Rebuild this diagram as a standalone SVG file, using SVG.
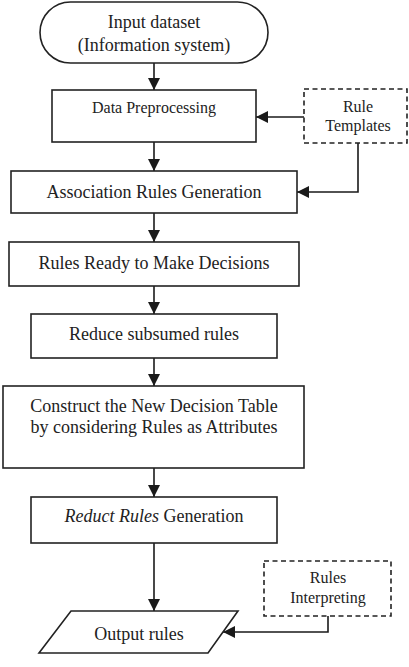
<svg xmlns="http://www.w3.org/2000/svg" width="409" height="667" viewBox="0 0 409 667">
<defs>
<marker id="ah" markerUnits="userSpaceOnUse" markerWidth="12" markerHeight="12" viewBox="0 0 12 12" refX="12" refY="6" orient="auto">
<path d="M0,0 L12,6 L0,12 Z" fill="#1a1a1a"/>
</marker>
</defs>
<style>
.box{fill:#fff;stroke:#222;stroke-width:1.6}
.dash{fill:#fff;stroke:#222;stroke-width:1.6;stroke-dasharray:5,3.5}
.t{font-family:"Liberation Serif","Times New Roman",serif;fill:#222;text-anchor:middle}
.c{fill:none;stroke:#1a1a1a;stroke-width:1.6;marker-end:url(#ah)}
</style>
<rect width="409" height="667" fill="#fff"/>
<g id="connectors">
<line class="c" x1="154" y1="63" x2="154" y2="90"/>
<line class="c" x1="304" y1="117" x2="256" y2="117"/>
<line class="c" x1="154" y1="142" x2="154" y2="171"/>
<polyline class="c" points="358,143 358,192 297,192"/>
<line class="c" x1="154" y1="213" x2="154" y2="242"/>
<line class="c" x1="154" y1="286" x2="154" y2="314"/>
<line class="c" x1="154" y1="358" x2="154" y2="386"/>
<line class="c" x1="154" y1="468" x2="154" y2="497"/>
<line class="c" x1="154" y1="543" x2="154" y2="611"/>
<polyline class="c" points="328,616 328,632 223,632"/>
</g>
<g id="input">
<rect class="box" x="40" y="2" width="228" height="61" rx="30.5" ry="30.5"/>
<text class="t" x="154" y="28" font-size="18">Input dataset</text>
<text class="t" x="154" y="51" font-size="18">(Information system)</text>
</g>
<g id="preprocessing">
<rect class="box" x="52" y="90" width="204" height="52"/>
<text class="t" x="154" y="113" font-size="16">Data Preprocessing</text>
</g>
<g id="ruleTemplates">
<rect class="dash" x="304" y="89" width="103" height="54"/>
<text class="t" x="358" y="112" font-size="16">Rule</text>
<text class="t" x="358" y="131" font-size="16">Templates</text>
</g>
<g id="association">
<rect class="box" x="11" y="171" width="286" height="42"/>
<text class="t" x="154" y="198" font-size="18">Association Rules Generation</text>
</g>
<g id="ready">
<rect class="box" x="9" y="242" width="290" height="44"/>
<text class="t" x="154" y="269" font-size="18">Rules Ready to Make Decisions</text>
</g>
<g id="reduce">
<rect class="box" x="31" y="314" width="246" height="44"/>
<text class="t" x="154" y="340" font-size="18">Reduce subsumed rules</text>
</g>
<g id="construct">
<rect class="box" x="3" y="386" width="301" height="82"/>
<text class="t" x="154" y="412" font-size="18">Construct the New Decision Table</text>
<text class="t" x="154" y="433" font-size="18">by considering Rules as Attributes</text>
</g>
<g id="reduct">
<rect class="box" x="31" y="497" width="246" height="46"/>
<text class="t" x="154" y="522" font-size="18"><tspan font-style="italic">Reduct Rules</tspan> Generation</text>
</g>
<g id="interpreting">
<rect class="dash" x="264" y="561" width="127" height="55"/>
<text class="t" x="328" y="583" font-size="16">Rules</text>
<text class="t" x="328" y="603" font-size="16">Interpreting</text>
</g>
<g id="output">
<polygon class="box" points="71,611 238,611 208,653 39,653"/>
<text class="t" x="139" y="640" font-size="18">Output rules</text>
</g>
</svg>
